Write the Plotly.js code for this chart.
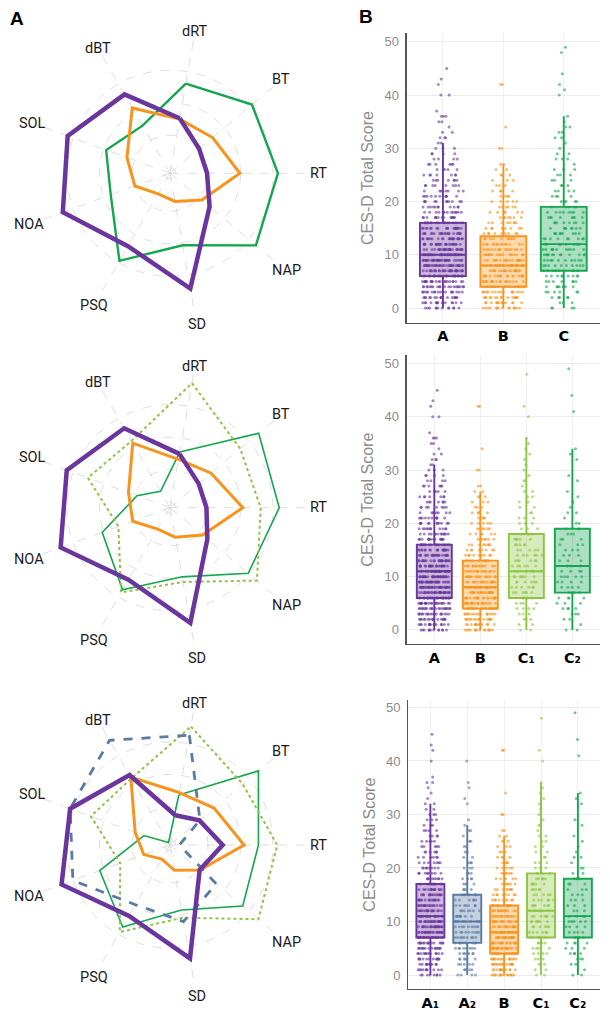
<!DOCTYPE html>
<html><head><meta charset="utf-8">
<script src="https://cdn.plot.ly/plotly-3.0.1.min.js"></script>
<style>html,body{margin:0;padding:0;background:#fff}</style>
</head><body>
<div id="chart" style="width:610px;height:1018px"></div>
<script>
// ---------- Radar (panel A) data ----------
const radarAxes = ['dRT','BT','RT','NAP','SD','PSQ','NOA','SOL','dBT'];
// row 1
const r1A  = [1.55, 1.00, 0.97, 1.42, 3.43, 2.42, 3.34, 3.18, 2.63];
const r1B  = [1.52, 1.54, 1.98, 1.11, 0.71, 0.56, 0.98, 1.24, 2.15];
const r1C  = [2.63, 3.12, 3.15, 3.28, 2.08, 2.94, 1.77, 1.92, 1.52];
// row 2
const r2A  = [1.51, 0.98, 0.95, 1.33, 3.43, 2.39, 3.41, 3.21, 2.65];
const r2B  = [1.34, 1.48, 2.07, 1.14, 0.75, 0.59, 1.05, 1.19, 2.12];
const r2C1 = [3.72, 2.65, 2.62, 3.32, 2.15, 2.84, 1.52, 2.52, 2.20];
const r2C2 = [1.57, 3.39, 3.19, 2.97, 1.99, 2.75, 2.05, 0.91, 0.41];
// row 3
const r3A1 = [0.76, 1.01, 1.45, 1.02, 3.37, 2.35, 3.38, 3.10, 2.32];
const r3A2 = [3.26, 1.03, 0.12, 1.69, 2.22, 1.95, 3.01, 3.10, 3.55];
const r3B  = [1.47, 1.60, 2.11, 1.03, 0.62, 0.33, 0.69, 0.97, 2.24];
const r3C1 = [3.53, 2.75, 3.13, 3.38, 2.10, 2.92, 1.46, 2.42, 2.20];
const r3C2 = [1.39, 3.38, 2.55, 2.75, 1.86, 2.74, 2.13, 0.68, -0.08];

// ---------- Box (panel B) data: number of participants at each CES-D score (index = score) ----------
const countsA1 = [8,10,11,12,13,14,15, 20,22,22,22, 18,17,16,15,14,13, 10,9,8,8,7,6,6,5,5,4,4,3,3,3,2,2, 1,1,1,2,1,0,0,1,0,1,1,0,1];
const countsA2 = [4,5,5,6,7,8, 9,9,9,9, 9,8,7,7,6, 5,4,4,4,3,3,3,2,2,2,2,1,2, 1,1,0,0,1,1,0,1,1,0,0,0,1];
const countsB  = [14,14,15,16, 19,19,19,19, 18,17,16,15,14, 10,9,9,8,7,6,6,5,4,4,3,3,3,2, 2,0,0,2,0,0,0,1,0,0,0,0,0,0,0,2];
const countsC1 = [2,2,3,3,4,4,5, 6,6,6,7,7, 6,6,6,5,5,5,5, 3,3,3,2,2,2,2,2,1,2,1,1,1,1,1,1,1,1, 0,0,0,1,0,1,0,0,0,0,0,1];
const countsC2 = [2,1,2,3,4,3,4, 4,4,4,5,4, 3,3,3,3,3,3,3, 2,2,1,2,1,1,1,1,0,1,1,0,0,1,1,1, 0,0,0,0,0,0,1,0,0,1,0,0,0,0,1];

// box statistics per row: [lower whisker, Q1, median, Q3, upper whisker]
const row1Cats = ['A','B','C'];
const row1Lo = [0,0,0], row1Q1 = [6,4,7], row1Med = [10,8,12], row1Q3 = [16,13.5,19], row1Hi = [31,27,36];
const row2Cats = ['A','B','C1','C2'];
const row2Lo = [0,0,0,0], row2Q1 = [6,4,6,7], row2Med = [11,8,11,12], row2Q3 = [16,13,18,19], row2Hi = [31,26,36,34];
const row3Cats = ['A1','A2','B','C1','C2'];
const row3Lo = [0,0,0,0,0], row3Q1 = [7,6,4,7,7], row3Med = [11,10,8,12,11], row3Q3 = [17,15,13,19,18], row3Hi = [32,28,26,36,34];
const tickText = {A:'A', B:'B', C:'C', A1:'A₁', A2:'A₂', C1:'C₁', C2:'C₂'};

// ---------- styling ----------
const col = {A:'#6a359c', A1:'#6a359c', A2:'#5a7aa3', B:'#f7941d', C:'#15a650', C1:'#8cc63f', C2:'#15a650'};
function rgba(hex, a){const n=parseInt(hex.slice(1),16);return `rgba(${n>>16&255},${n>>8&255},${n&255},${a})`;}

function expand(counts){const out=[];counts.forEach((c,v)=>{for(let i=0;i<c;i++)out.push(v);});return out;}
const ptsA1 = expand(countsA1), ptsA2 = expand(countsA2), ptsB = expand(countsB), ptsC1 = expand(countsC1), ptsC2 = expand(countsC2);
const rowPts = [
  {A: ptsA1.concat(ptsA2), B: ptsB, C: ptsC1.concat(ptsC2)},
  {A: ptsA1.concat(ptsA2), B: ptsB, C1: ptsC1, C2: ptsC2},
  {A1: ptsA1, A2: ptsA2, B: ptsB, C1: ptsC1, C2: ptsC2}
];

const traces = [];
function radar(vals, sub, color, width, dash){
  traces.push({type:'scatterpolar', mode:'lines', subplot:sub,
    r: vals.concat([vals[0]]), theta: radarAxes.concat([radarAxes[0]]),
    line:{color:color, width:width, dash:dash||'solid'}, hoverinfo:'skip', showlegend:false});
}
radar(r1C,'polar',col.C,2.4); radar(r1B,'polar',col.B,3); radar(r1A,'polar',col.A,4.5);
radar(r2C2,'polar2',col.C2,1.6); radar(r2C1,'polar2',col.C1,2,'dot'); radar(r2B,'polar2',col.B,3); radar(r2A,'polar2',col.A,4.5);
radar(r3C2,'polar3',col.C2,1.6); radar(r3C1,'polar3',col.C1,2,'dot'); radar(r3B,'polar3',col.B,3); radar(r3A2,'polar3',col.A2,2.8,'dash'); radar(r3A1,'polar3',col.A1,4.5);

const rows = [
  {cats:row1Cats, lo:row1Lo, q1:row1Q1, med:row1Med, q3:row1Q3, hi:row1Hi, xa:'x', ya:'y'},
  {cats:row2Cats, lo:row2Lo, q1:row2Q1, med:row2Med, q3:row2Q3, hi:row2Hi, xa:'x2', ya:'y2'},
  {cats:row3Cats, lo:row3Lo, q1:row3Q1, med:row3Med, q3:row3Q3, hi:row3Hi, xa:'x3', ya:'y3'}
];
const BW = 0.76;
rows.forEach((r,ri)=>{
  r.cats.forEach((c,i)=>{
    traces.push({type:'box', x0:c, y:rowPts[ri][c], xaxis:r.xa, yaxis:r.ya,
      boxpoints:'all', jitter:0.9, pointpos:0, width:BW, whiskerwidth:0,
      line:{width:0}, fillcolor:'rgba(0,0,0,0)',
      marker:{size:3, color:col[c], opacity:0.6},
      hoverinfo:'skip', showlegend:false});
  });
  r.cats.forEach((c,i)=>{
    traces.push({type:'box', x:[c], q1:[r.q1[i]], median:[r.med[i]], q3:[r.q3[i]],
      lowerfence:[r.lo[i]], upperfence:[r.hi[i]], xaxis:r.xa, yaxis:r.ya,
      boxpoints:false, width:BW, whiskerwidth:0,
      line:{color:col[c], width:1.9}, fillcolor:rgba(col[c],0.35),
      hoverinfo:'skip', showlegend:false});
  });
});

const W = 610, H = 1018;
const polX = [0.0554, 0.502];
const polY = [[0.696,0.9636],[0.3675,0.6351],[0.0361,0.3037]];
function polarLayout(dom){
  return {domain:dom, bgcolor:'rgba(0,0,0,0)',
    radialaxis:{range:[-0.17,4.02], tickvals:[0,1,2,3,4], showticklabels:false, ticks:'', showline:false,
      gridcolor:'#d6d6d6', griddash:'dash', gridwidth:0.8},
    angularaxis:{type:'category', categoryarray:radarAxes, rotation:80, direction:'clockwise',
      showline:false, gridcolor:'#d6d6d6', griddash:'dash', gridwidth:0.8, ticks:'', showticklabels:false}};
}

// axis-name labels placed just outside the outer ring of each radar
const annotations = [];
polY.forEach(dy=>{
  const cx = (polX[0]+polX[1])/2*W, cy = (1-(dy[0]+dy[1])/2)*H;
  radarAxes.forEach((name,i)=>{
    const a = (80 - 40*i)*Math.PI/180;
    const rr = 148.5 - 5*Math.sin(a);
    annotations.push({text:name, xref:'paper', yref:'paper',
      x:(cx + rr*Math.cos(a))/W, y:1-(cy - rr*Math.sin(a))/H,
      xanchor:'center', yanchor:'middle', showarrow:false,
      font:{family:'Roboto', size:14.5, color:'#1a1a1a'}});
  });
});
annotations.push({text:'<b>A</b>', xref:'paper', yref:'paper', x:8/W, y:1-18.5/H, xanchor:'left', yanchor:'middle', showarrow:false, font:{family:'Liberation Sans', size:19, color:'#000'}});
annotations.push({text:'<b>B</b>', xref:'paper', yref:'paper', x:357/W, y:1-16.5/H, xanchor:'left', yanchor:'middle', showarrow:false, font:{family:'Liberation Sans', size:19, color:'#000'}});

function xAx(cats, anchor, dom){
  return {domain:dom, anchor:anchor, type:'category', categoryarray:cats,
    tickvals:cats, ticktext:cats.map(c=>tickText[c]),
    range:[-0.6, cats.length-0.4], showline:true, linecolor:'#555', linewidth:1.2,
    showgrid:true, gridcolor:'#f0f0f0', zeroline:false, ticks:'',
    tickfont:{family:'DejaVu Sans', size:14.5, color:'#000', weight:'bold'}};
}
function yAx(anchor, dom, range){
  return {domain:dom, anchor:anchor, range:range, tick0:0, dtick:10, showline:true, linecolor:'#555', linewidth:1.2,
    showgrid:true, gridcolor:'#ececec', zeroline:false, ticks:'outside', ticklen:4, tickcolor:'rgba(0,0,0,0)',
    tickfont:{family:'Liberation Sans', size:13, color:'#8c8c8c'},
    title:{text:'CES-D Total Score', font:{family:'Liberation Sans', size:16, color:'#8c8c8c'}, standoff:6}};
}

const layout = {
  width:W, height:H, margin:{l:0,r:0,t:0,b:0}, paper_bgcolor:'#fff', plot_bgcolor:'rgba(0,0,0,0)',
  font:{family:'Liberation Sans'}, showlegend:false, boxmode:'overlay',
  polar: polarLayout({x:polX, y:polY[0]}),
  polar2: polarLayout({x:polX, y:polY[1]}),
  polar3: polarLayout({x:polX, y:polY[2]}),
  xaxis: xAx(row1Cats,'y',[0.6667,0.9836]),
  yaxis: yAx('x',[0.683,0.9673],[-2.75,51.6]),
  xaxis2: xAx(row2Cats,'y2',[0.6667,0.9836]),
  yaxis2: yAx('x2',[0.3671,0.6513],[-2.7,51.6]),
  xaxis3: xAx(row3Cats,'y3',[0.6693,0.9836]),
  yaxis3: yAx('x3',[0.0282,0.3124],[-2.67,51.4]),
  annotations: annotations
};
Plotly.newPlot('chart', traces, layout, {staticPlot:true, displayModeBar:false});
</script>
</body></html>
